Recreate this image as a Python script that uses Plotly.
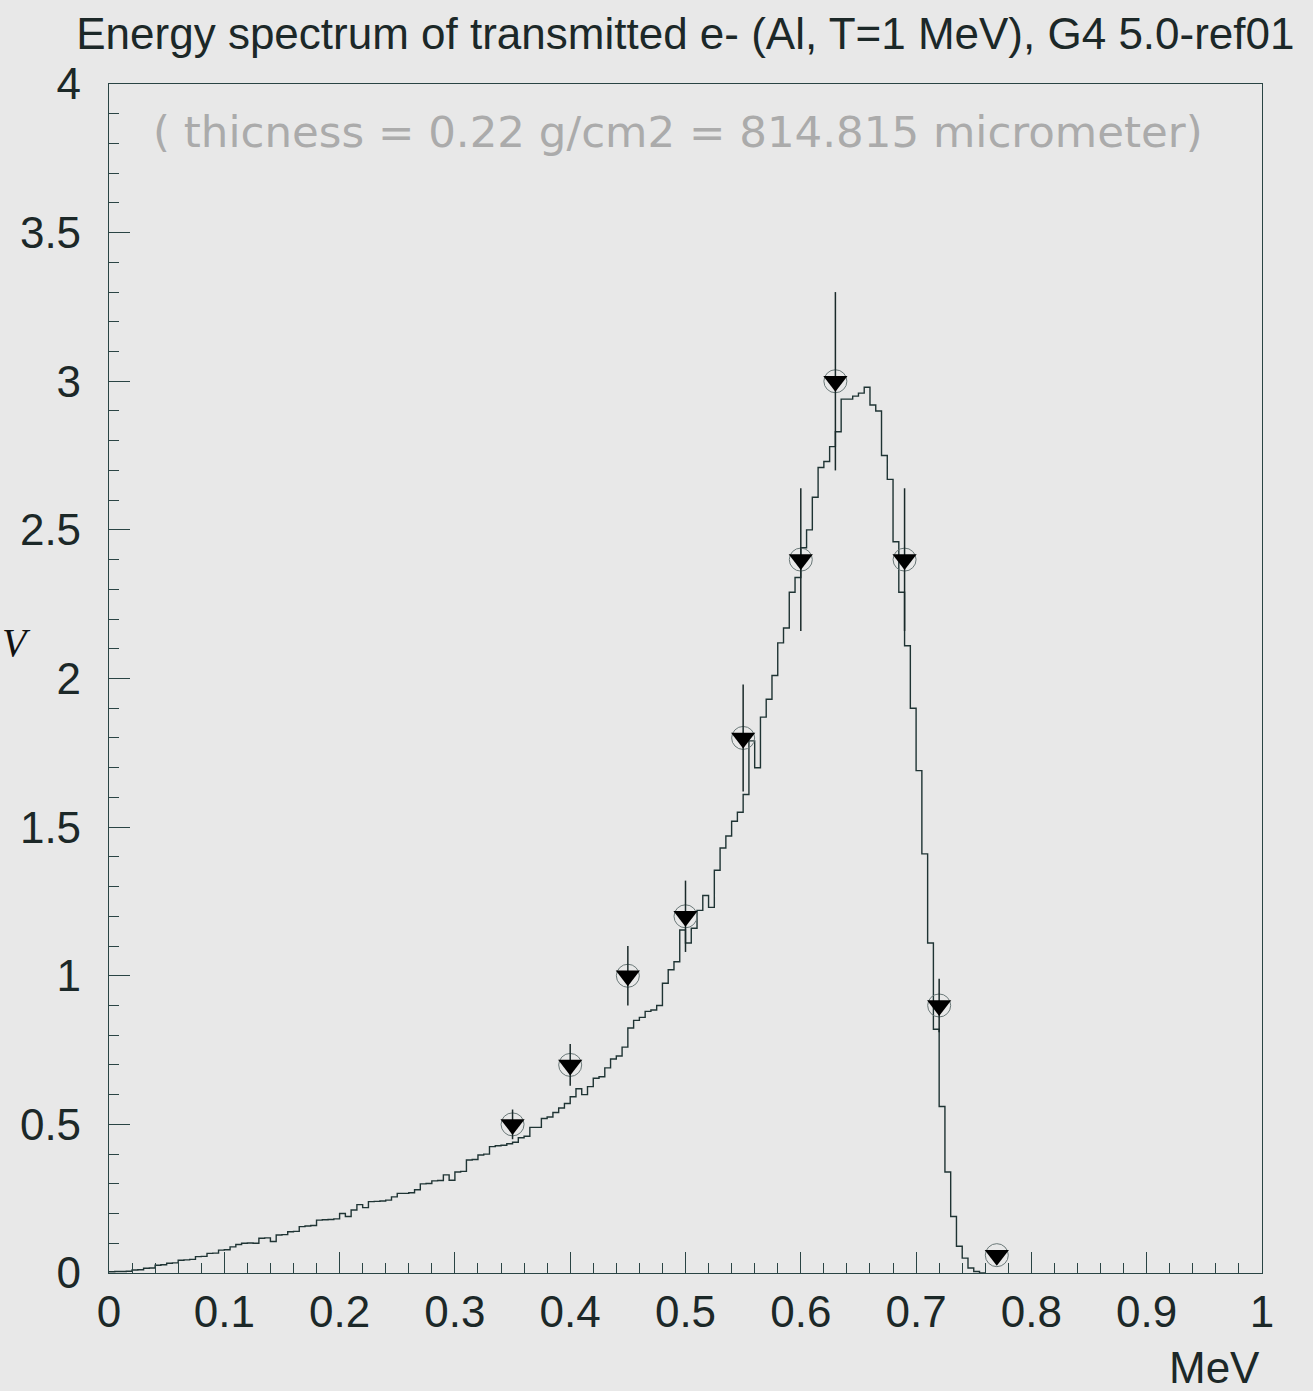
import plotly.graph_objects as go
import numpy as np

# ---------------- data ----------------
bin_start = 0.0
bin_width = 0.005
hist_values = [
    0.004, 0.005, 0.005, 0.006, 0.010, 0.011, 0.016, 0.017, 0.026, 0.028,
    0.033, 0.034, 0.043, 0.044, 0.046, 0.055, 0.056, 0.066, 0.067, 0.077,
    0.078, 0.088, 0.096, 0.100, 0.101, 0.100, 0.117, 0.118, 0.106, 0.128,
    0.129, 0.139, 0.140, 0.156, 0.158, 0.160, 0.178, 0.179, 0.180, 0.182,
    0.200, 0.190, 0.212, 0.230, 0.220, 0.240, 0.241, 0.242, 0.245, 0.256,
    0.268, 0.268, 0.270, 0.280, 0.300, 0.301, 0.310, 0.311, 0.330, 0.312,
    0.340, 0.342, 0.380, 0.382, 0.397, 0.400, 0.425, 0.428, 0.430, 0.435,
    0.440, 0.455, 0.460, 0.490, 0.490, 0.520, 0.525, 0.540, 0.555, 0.570,
    0.593, 0.620, 0.600, 0.627, 0.655, 0.660, 0.690, 0.720, 0.730, 0.760,
    0.824, 0.850, 0.860, 0.880, 0.885, 0.900, 0.975, 1.020, 1.047, 1.154,
    1.110, 1.160, 1.220, 1.270, 1.230, 1.355, 1.430, 1.470, 1.520, 1.550,
    1.610, 1.790, 1.700, 1.870, 1.930, 2.010, 2.120, 2.170, 2.290, 2.340,
    2.440, 2.500, 2.610, 2.710, 2.730, 2.780, 2.830, 2.940, 2.940, 2.950,
    2.960, 2.980, 2.920, 2.900, 2.750, 2.670, 2.460, 2.290, 2.110, 1.900,
    1.690, 1.410, 1.110, 0.820, 0.560, 0.340, 0.190, 0.090, 0.050, 0.017,
    0.005, 0.000,
]

exp_energy = [0.35, 0.40, 0.45, 0.50, 0.55, 0.60, 0.63, 0.69, 0.72, 0.77]
exp_value = [0.50, 0.70, 1.00, 1.20, 1.80, 2.40, 3.00, 2.40, 0.90, 0.06]
exp_error = [0.05, 0.07, 0.10, 0.12, 0.18, 0.24, 0.30, 0.24, 0.09, 0.006]

x_ticks = [0, 0.1, 0.2, 0.3, 0.4, 0.5, 0.6, 0.7, 0.8, 0.9, 1]
x_ticklabels = ["0", "0.1", "0.2", "0.3", "0.4", "0.5", "0.6", "0.7", "0.8", "0.9", "1"]
y_ticks = [0, 0.5, 1, 1.5, 2, 2.5, 3, 3.5, 4]
y_ticklabels = ["0", "0.5", "1", "1.5", "2", "2.5", "3", "3.5", "4"]

title_text = "Energy spectrum of transmitted e- (Al, T=1 MeV), G4 5.0-ref01"
note_text = "( thicness = 0.22 g/cm2 = 814.815 micrometer)"

# ---------------- figure ----------------
n = len(hist_values)
edges = bin_start + bin_width * np.arange(n + 1)
step_y = list(hist_values) + [hist_values[-1]]

BG = "#e8e8e8"
INK = "#1c2828"
FONT = "Liberation Sans, Arial, sans-serif"

fig = go.Figure()

fig.add_trace(go.Scatter(
    x=edges, y=step_y, mode="lines", line=dict(shape="hv", color="#1f3434", width=1.4),
    hoverinfo="skip", showlegend=False,
))

fig.add_trace(go.Scatter(
    x=exp_energy, y=exp_value, mode="markers",
    marker=dict(symbol="circle-open", size=23, color="#6a7878", line=dict(width=1)),
    showlegend=False,
))

fig.add_trace(go.Scatter(
    x=exp_energy, y=exp_value, mode="markers",
    marker=dict(symbol="triangle-down", size=21, color="#000000"),
    error_y=dict(type="data", array=exp_error, visible=True, width=0,
                 thickness=1.5, color="#1a2a2a"),
    showlegend=False,
))

axis_common = dict(
    showline=True, linecolor="#2a4444", linewidth=1.2, mirror=True,
    showgrid=False, zeroline=False, ticks="inside", tickcolor="#2a4444",
    tickwidth=1.2, ticklen=21,
    tickfont=dict(family=FONT, size=44, color=INK),
)

fig.update_xaxes(
    range=[0, 1], tickmode="array", tickvals=x_ticks, ticktext=x_ticklabels,
    minor=dict(ticks="inside", ticklen=10, dtick=0.02, tickcolor="#2a4444", tickwidth=1.2),
    ticklabelstandoff=0,
    **axis_common,
)
fig.update_yaxes(
    range=[0, 4], tickmode="array", tickvals=y_ticks, ticktext=y_ticklabels,
    minor=dict(ticks="inside", ticklen=10, dtick=0.1, tickcolor="#2a4444", tickwidth=1.2),
    ticklabelstandoff=18,
    **axis_common,
)

fig.update_layout(
    width=1313, height=1391,
    margin=dict(l=109, r=51, t=84, b=118),
    paper_bgcolor=BG, plot_bgcolor=BG,
    title=dict(text=title_text, x=0.522, xanchor="center", y=0.976, yanchor="middle",
               font=dict(family=FONT, size=44, color=INK)),
    showlegend=False,
)

fig.add_annotation(
    text=note_text, xref="paper", yref="paper", x=0.036, y=0.96,
    xanchor="left", yanchor="middle", showarrow=False,
    font=dict(family="DejaVu Sans, sans-serif", size=43.5, color="#ababab"),
)
fig.add_annotation(
    text="MeV", xref="paper", yref="paper", x=1.0, y=-0.0795,
    xanchor="right", yanchor="middle", showarrow=False,
    font=dict(family=FONT, size=44, color=INK),
)
fig.add_annotation(
    text="<i>V</i>", xref="paper", yref="paper", x=-0.0945, y=0.53,
    xanchor="left", yanchor="middle", showarrow=False,
    font=dict(family="Liberation Serif, serif", size=40, color="#111111"),
)

fig.write_html("out.html", config={"displayModeBar": False},
               post_script="document.body.style.margin='0';")
